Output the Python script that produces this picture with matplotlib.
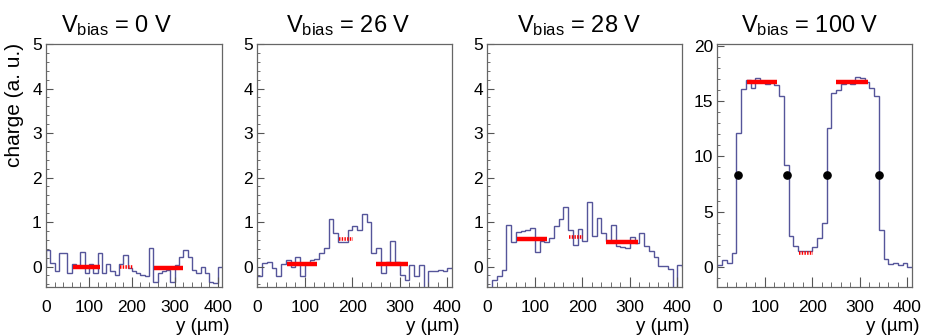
import numpy as np
import matplotlib
matplotlib.use("Agg")
import matplotlib.pyplot as plt
from matplotlib.ticker import MultipleLocator

plt.rcParams['font.family'] = ['Liberation Sans', 'DejaVu Sans']
plt.rcParams['mathtext.fontset'] = 'custom'
plt.rcParams['mathtext.rm'] = 'Liberation Sans'
plt.rcParams['mathtext.it'] = 'Liberation Sans:italic'

# ---------------- data ----------------
titles = ["0", "26", "28", "100"]
bin_edges = np.arange(0, 411, 10)  # y (um), 41 bins of 10 um

charge_0V = [0.37, 0.07, -0.11, 0.30, 0.30, -0.15, 0.06, -0.02, 0.33, -0.15,
             0.06, -0.15, 0.30, -0.15, 0.06, -0.11, -0.19, 0.06, 0.26, -0.04,
             -0.11, -0.15, -0.19, -0.22, 0.41, -0.35, -0.15, -0.11, -0.07, -0.34,
             0.04, 0.22, 0.37, 0.22, -0.07, -0.15, 0.00, -0.15, -0.34, -0.38, 0.00]
charge_26V = [-0.22, 0.07, 0.10, -0.04, -0.22, 0.05, 0.15, 0.00, 0.22, -0.22,
              0.07, 0.15, 0.18, 0.30, 0.41, 1.06, 0.76, 0.56, 0.56, 0.82,
              0.90, 0.82, 1.18, 1.00, 0.30, 0.41, -0.15, 0.11, 0.58, 0.11,
              -0.19, -0.30, 0.04, -0.22, 0.04, -0.60, -0.11, -0.11, -0.08, -0.11, -0.04]
charge_28V = [-0.60, -0.30, -0.21, -0.07, 0.93, 0.56, 0.77, 0.80, 0.83, 0.87,
              0.32, 0.58, 0.54, 0.64, 0.91, 1.06, 1.33, 0.82, 0.49, 0.84,
              0.58, 1.44, 0.69, 1.09, 0.76, 0.58, 0.94, 0.46, 0.43, 0.41,
              0.67, 0.53, 0.76, 0.46, 0.36, 0.22, 0.01, 0.01, -0.06, -0.60, 0.04]
charge_100V = [0.15, 0.60, 0.35, 1.20, 12.1, 16.15, 16.9, 16.2, 17.1, 16.7,
               16.6, 16.8, 16.45, 15.5, 9.2, 2.8, 1.9, 1.45, 1.45, 1.45,
               1.75, 2.6, 4.0, 12.6, 15.75, 16.0, 16.6, 16.8, 16.6, 17.2,
               17.1, 16.7, 16.2, 15.5, 3.3, 0.7, 0.24, 0.30, 0.15, 0.30, -0.06]
charges = [charge_0V, charge_26V, charge_28V, charge_100V]

# mean charge per region: [solid left, dotted middle, solid right]
region_start = [63, 172, 251]
region_end = [126, 202, 318]
mean_0V = [0.00, 0.00, -0.03]
mean_26V = [0.06, 0.62, 0.06]
mean_28V = [0.61, 0.66, 0.54]
mean_100V = [16.7, 1.27, 16.7]
means = [mean_0V, mean_26V, mean_28V, mean_100V]

# half-height crossing points at 100 V
edge_x = [43, 146, 230, 341]
edge_y = [8.3, 8.3, 8.3, 8.3]

ylims = [(-0.46, 5.0), (-0.46, 5.0), (-0.46, 5.0), (-1.84, 20.19)]

# ---------------- layout ----------------
W, H = 925, 336
fig = plt.figure(figsize=(W / 100, H / 100), dpi=100)
lefts = [46, 257.3, 487.3, 717.3]
widths = [176, 194.7, 194.7, 194.7]
bottom_px, top_px = 287, 44
title_cx = [117, 348, 579, 810]

hist_color = '#55559a'
for i in range(4):
    ax = fig.add_axes([lefts[i] / W, (H - bottom_px) / H, widths[i] / W, (bottom_px - top_px) / H])
    ax.stairs(charges[i], bin_edges, color=hist_color, lw=1.0)
    for k in range(3):
        if k == 1:
            ax.plot([region_start[k], region_end[k]], [means[i][k]] * 2, color='#ff0000',
                    lw=2.6, ls=(0, (0.4, 0.35)), solid_capstyle='butt')
        else:
            ax.plot([region_start[k], region_end[k]], [means[i][k]] * 2, color='#ff0000',
                    lw=3.2, solid_capstyle='butt')
    if i == 3:
        ax.plot(edge_x, edge_y, 'o', color='black', ms=5.2, zorder=5)
    ax.set_xlim(0, 410)
    ax.set_ylim(*ylims[i])
    ax.xaxis.set_major_locator(MultipleLocator(100))
    ax.xaxis.set_minor_locator(MultipleLocator(20))
    if i < 3:
        ax.yaxis.set_major_locator(MultipleLocator(1))
        ax.yaxis.set_minor_locator(MultipleLocator(0.2))
    else:
        ax.yaxis.set_major_locator(MultipleLocator(5))
        ax.yaxis.set_minor_locator(MultipleLocator(1))
    ax.tick_params(which='both', direction='in', top=False, right=False,
                   labelsize=12.5, color='#555555')
    ax.tick_params(axis='x', which='major', length=7, pad=9)
    ax.tick_params(axis='x', which='minor', length=3.5)
    ax.tick_params(axis='y', which='major', length=5, pad=3)
    ax.tick_params(axis='y', which='minor', length=2.5)
    for s in ax.spines.values():
        s.set_color('#666666')
        s.set_linewidth(0.9)
    fig.text(title_cx[i] / W, (H - 32) / H, r"V$_{\mathrm{bias}}$ = " + titles[i] + " V",
             ha='center', va='baseline', fontsize=17)
    fig.text((lefts[i] + widths[i] + 7) / W, 1.0 / H, "y (µm)", ha='right', va='bottom',
             fontsize=13.5)

fig.text(15 / W, (H - 43) / H, "charge (a. u.)", rotation=90, ha='center', va='top', fontsize=15)

fig.savefig("out.png", dpi=100)
